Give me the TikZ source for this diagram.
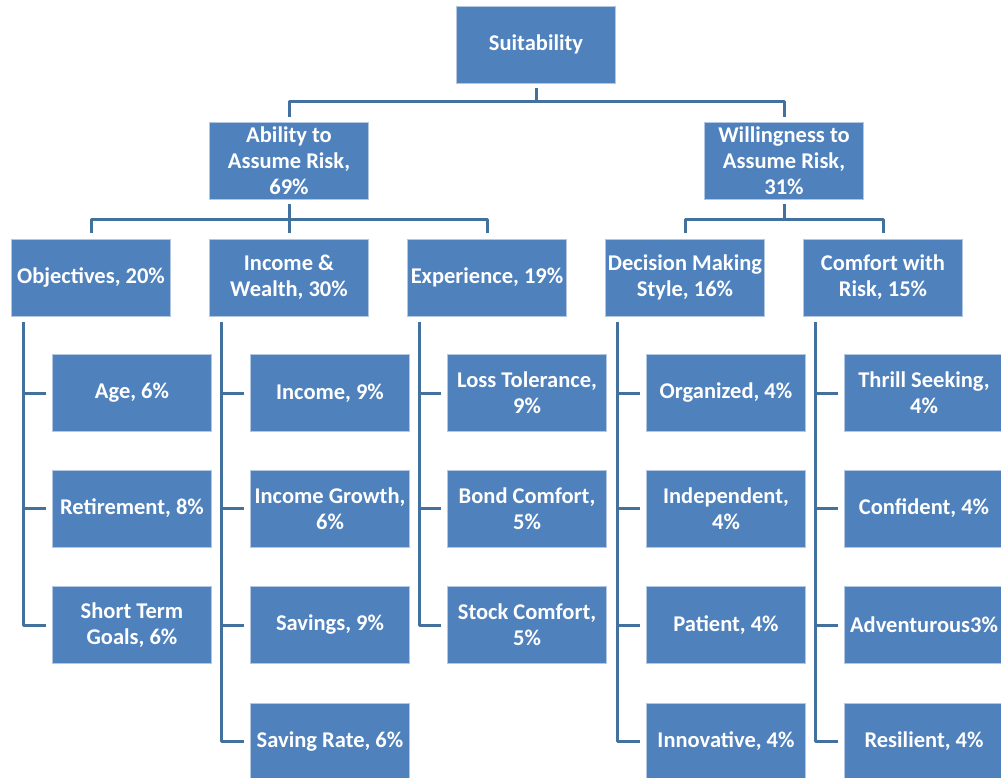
\documentclass[tikz,border=0pt]{standalone}
\usepackage{fontspec}
\setmainfont{Carlito}
\definecolor{boxfill}{HTML}{4F81BD}
\definecolor{boxline}{HTML}{B4C7E2}
\definecolor{connc}{HTML}{41719C}
\tikzset{
  box/.style={rectangle, fill=boxfill, draw=boxline, line width=0.8pt,
    minimum width=159pt, minimum height=77pt, inner sep=0pt, text=white,
    align=center, font=\fontsize{22.5}{26}\selectfont\bfseries},
  conn/.style={draw=connc, line width=3pt, line join=round}
}
\begin{document}
\begin{tikzpicture}[x=1pt,y=-1pt]
\useasboundingbox (0,0) rectangle (1001,778);
\clip (0,0) rectangle (1001,778);
% level 0 and 1
\node[box] (suit) at (536,44.5) {Suitability};
\node[box] (abil) at (289,160.5) {Ability to\\Assume Risk,\\69\%};
\node[box] (will) at (784,160.5) {Willingness to\\Assume Risk,\\31\%};
% level 2
\node[box] (obj) at (91,277.5) {Objectives, 20\%};
\node[box] (inc) at (289,277.5) {Income \&\\Wealth, 30\%};
\node[box] (exp) at (487,277.5) {Experience, 19\%};
\node[box] (dec) at (685,277.5) {Decision Making\\Style, 16\%};
\node[box] (com) at (883,277.5) {Comfort with\\Risk, 15\%};
% level 3
\node[box] (age) at (132,393) {Age, 6\%};
\node[box] (ret) at (132,508.5) {Retirement, 8\%};
\node[box] (stg) at (132,625) {Short Term\\Goals, 6\%};
\node[box] (incm) at (330,393) {Income, 9\%};
\node[box] (ing) at (330,508.5) {Income Growth,\\6\%};
\node[box] (sav) at (330,625) {Savings, 9\%};
\node[box] (svr) at (330,741.5) {Saving Rate, 6\%};
\node[box] (los) at (527,393) {Loss Tolerance,\\9\%};
\node[box] (bnd) at (527,508.5) {Bond Comfort,\\5\%};
\node[box] (stk) at (527,625) {Stock Comfort,\\5\%};
\node[box] (org) at (726,393) {Organized, 4\%};
\node[box] (ind) at (726,508.5) {Independent,\\4\%};
\node[box] (pat) at (726,625) {Patient, 4\%};
\node[box] (inn) at (726,741.5) {Innovative, 4\%};
\node[box] (thr) at (924,393) {Thrill Seeking,\\4\%};
\node[box] (con) at (924,508.5) {Confident, 4\%};
\node[box] (adv) at (924,625) {Adventurous3\%};
\node[box] (res) at (924,741.5) {Resilient, 4\%};
% buses
\coordinate (b0) at (536,102);
\coordinate (b1) at (289,220);
\coordinate (b2) at (784,220);
\draw[conn] ([yshift=-5pt]suit.south) -- (b0);
\draw[conn] ([yshift=5pt]abil.north) |- (b0) -| ([yshift=5pt]will.north);
\draw[conn] ([yshift=-5pt]abil.south) -- ([yshift=6pt]inc.north);
\draw[conn] ([yshift=6pt]obj.north) |- (b1) -| ([yshift=6pt]exp.north);
\draw[conn] ([yshift=-5pt]will.south) -- (b2);
\draw[conn] ([yshift=6pt]dec.north) |- (b2) -| ([yshift=6pt]com.north);
% child verticals
\coordinate (vo) at ([xshift=12pt,yshift=-6pt]obj.south west);
\coordinate (vi) at ([xshift=12pt,yshift=-6pt]inc.south west);
\coordinate (ve) at ([xshift=12pt,yshift=-6pt]exp.south west);
\coordinate (vd) at ([xshift=12pt,yshift=-6pt]dec.south west);
\coordinate (vc) at ([xshift=12pt,yshift=-6pt]com.south west);
\draw[conn] (vo) |- ([xshift=-6pt]stg.west);
\draw[conn] ([xshift=-6pt]age.west) -- (vo |- age.west);
\draw[conn] ([xshift=-6pt]ret.west) -- (vo |- ret.west);
\draw[conn] (vi) |- ([xshift=-6pt]svr.west);
\draw[conn] ([xshift=-6pt]incm.west) -- (vi |- incm.west);
\draw[conn] ([xshift=-6pt]ing.west) -- (vi |- ing.west);
\draw[conn] ([xshift=-6pt]sav.west) -- (vi |- sav.west);
\draw[conn] (ve) |- ([xshift=-6pt]stk.west);
\draw[conn] ([xshift=-6pt]los.west) -- (ve |- los.west);
\draw[conn] ([xshift=-6pt]bnd.west) -- (ve |- bnd.west);
\draw[conn] (vd) |- ([xshift=-6pt]inn.west);
\draw[conn] ([xshift=-6pt]org.west) -- (vd |- org.west);
\draw[conn] ([xshift=-6pt]ind.west) -- (vd |- ind.west);
\draw[conn] ([xshift=-6pt]pat.west) -- (vd |- pat.west);
\draw[conn] (vc) |- ([xshift=-6pt]res.west);
\draw[conn] ([xshift=-6pt]thr.west) -- (vc |- thr.west);
\draw[conn] ([xshift=-6pt]con.west) -- (vc |- con.west);
\draw[conn] ([xshift=-6pt]adv.west) -- (vc |- adv.west);
\end{tikzpicture}
\end{document}
